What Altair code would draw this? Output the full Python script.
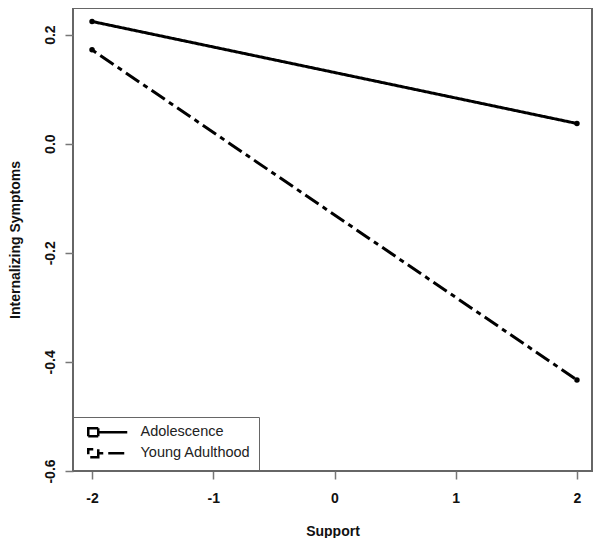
import altair as alt
import pandas as pd

# Data
support = [-2, 2]
adolescence = [0.224, 0.037]
young_adulthood = [0.172, -0.433]
groups = ["Adolescence", "Young Adulthood"]
x_ticks = [-2, -1, 0, 1, 2]
y_ticks = [-0.6, -0.4, -0.2, 0.0, 0.2]

rows = []
for g, vals in zip(groups, [adolescence, young_adulthood]):
    for s, v in zip(support, vals):
        rows.append({"Support": s, "value": v, "group": g})
df = pd.DataFrame(rows)

FONT = "Liberation Sans"
MINUS = "\u2212"

x_enc = alt.X(
    "Support:Q",
    scale=alt.Scale(domain=[-2.157, 2.124], nice=False, zero=False),
    axis=alt.Axis(
        values=x_ticks,
        title="Support",
        labelExpr=f"replace(format(datum.value, 'd'), '{MINUS}', '-')",
        titleY=64,
        titleBaseline="alphabetic",
        labelPadding=12,
    ),
)
y_enc = alt.Y(
    "value:Q",
    scale=alt.Scale(domain=[-0.6, 0.2487], nice=False, zero=False),
    axis=alt.Axis(
        values=y_ticks,
        title="Internalizing Symptoms",
        labelExpr=f"replace(format(datum.value, '.1f'), '{MINUS}', '-')",
        labelAngle=270,
        labelAlign="center",
        labelBaseline="alphabetic",
        labelPadding=11,
        titleAngle=270,
        titleX=-54,
        titleBaseline="alphabetic",
        titleAlign="center",
    ),
)

lines = alt.Chart(df).mark_line(color="black", strokeWidth=3).encode(
    x=x_enc,
    y=y_enc,
    strokeDash=alt.StrokeDash(
        "group:N",
        scale=alt.Scale(domain=groups, range=[[1, 0], [5, 5, 16, 5]]),
        legend=alt.Legend(
            title=None,
            orient="bottom-left",
            offset=0,
            padding=8,
            strokeColor="#666666",
            symbolType="M-1,-0.8H1V0.8H-1Z M1,0H6.8",
            symbolSize=100,
            symbolStrokeWidth=2.5,
            symbolStrokeColor="black",
            symbolFillColor="white",
            symbolOffset=5,
            labelOffset=40,
            labelFontSize=14.5,
            labelFont=FONT,
            labelFontWeight="normal",
            labelColor="#222222",
            rowPadding=2,
        ),
    ),
)

points = alt.Chart(df).mark_point(filled=True, color="black", size=30, opacity=1).encode(
    x="Support:Q",
    y="value:Q",
    detail="group:N",
)

chart = (
    alt.layer(lines, points)
    .properties(
        width=519,
        height=463,
        autosize=alt.AutoSizeParams(type="none"),
        padding={"left": 65, "top": 0, "right": 1, "bottom": 67},
    )
    .configure_view(stroke="#666666", strokeWidth=2)
    .configure_axis(
        domain=False,
        grid=False,
        ticks=True,
        tickSize=8,
        tickColor="#777777",
        tickWidth=1.5,
        labelFont=FONT,
        labelFontSize=14,
        labelFontWeight="bold",
        labelColor="#111111",
        titleFont=FONT,
        titleFontSize=14,
        titleFontWeight="bold",
        titleColor="#111111",
    )
)

chart.save("out.html", embed_options={"renderer": "svg", "actions": False})
